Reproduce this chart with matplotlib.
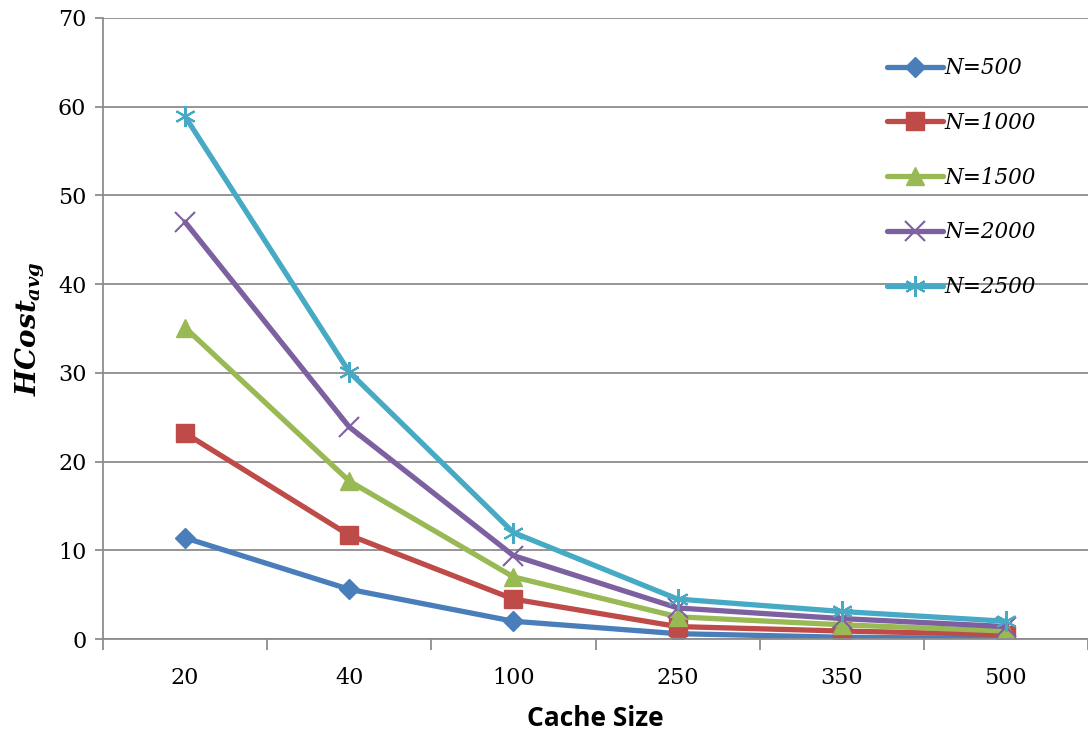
import matplotlib
matplotlib.use("Agg")
import matplotlib.pyplot as plt
import numpy as np

categories = ["20", "40", "100", "250", "350", "500"]
n500 = [11.4, 5.6, 2.0, 0.6, 0.2, 0.05]
n1000 = [23.2, 11.7, 4.5, 1.4, 0.9, 0.5]
n1500 = [35.1, 17.8, 7.0, 2.5, 1.6, 0.9]
n2000 = [47.0, 23.9, 9.4, 3.5, 2.3, 1.4]
n2500 = [58.9, 30.1, 12.0, 4.5, 3.1, 2.0]
series_labels = ["N=500", "N=1000", "N=1500", "N=2000", "N=2500"]
yticks = [0, 10, 20, 30, 40, 50, 60, 70]

plt.rcParams['mathtext.fontset'] = 'custom'
plt.rcParams['mathtext.it'] = 'DejaVu Serif:bold:italic'
plt.rcParams['mathtext.rm'] = 'DejaVu Serif:bold'

fig = plt.figure(figsize=(10.88, 7.32), dpi=100)
ax = fig.add_axes([103/1088, 1-639/732, 1-103/1088, (639-18)/732])

colors = ["#4A7EBB", "#BE4B48", "#98B954", "#7D60A0", "#46AAC5"]
markers = ["D", "s", "^", "x", "*"]
msizes = [10, 13, 13, 14, 15]
x = np.arange(len(categories))
data = [n500, n1000, n1500, n2000, n2500]
for d, c, m, ms, lab in zip(data, colors, markers, msizes, series_labels):
    if m == "x":
        ax.plot(x, d, color=c, lw=3.8, marker=m, ms=ms, mew=1.5, label=lab, solid_capstyle='round')
    elif m == "*":
        ax.plot(x, d, color=c, lw=3.8, marker=(6, 2, 0), ms=ms, mew=1.5, mec=c, label=lab, solid_capstyle='round')
    else:
        ax.plot(x, d, color=c, lw=3.8, marker=m, ms=ms, mec=c, label=lab, solid_capstyle='round')

ax.set_xlim(-0.5, 5.5)
ax.set_ylim(0, 70)
ax.set_yticks(yticks)
ax.yaxis.grid(True, color="#8C8C8C", lw=1.3)
ax.set_axisbelow(True)
ax.set_xticks(x)
ax.set_xticklabels(categories)
ax.set_xticks(np.arange(-0.5, 6, 1), minor=True)
ax.tick_params(axis='x', which='major', length=0, pad=20, labelsize=16)
ax.tick_params(axis='x', which='minor', length=8, color="#8C8C8C", width=1.3)
ax.tick_params(axis='y', length=6, color="#8C8C8C", width=1.3, labelsize=16, pad=6)
for lbl in ax.get_xticklabels() + ax.get_yticklabels():
    lbl.set_fontfamily("DejaVu Serif")
for s in ["top", "right"]:
    ax.spines[s].set_visible(False)
for s in ["left", "bottom"]:
    ax.spines[s].set_color("#8C8C8C")
    ax.spines[s].set_linewidth(1.3)

ax.set_xlabel("Cache Size", fontsize=19, fontweight='bold', family="Open Sans", labelpad=12)
ax.set_ylabel(r"$HCost_{avg}$", fontsize=20, labelpad=8)

leg = ax.legend(loc='upper left', bbox_to_anchor=(0.776, 0.968), frameon=False,
                prop={'family': 'DejaVu Serif', 'style': 'italic', 'size': 15.5},
                labelspacing=1.52, handlelength=2.6, handletextpad=0.1)

fig.savefig("out.png", dpi=100)
